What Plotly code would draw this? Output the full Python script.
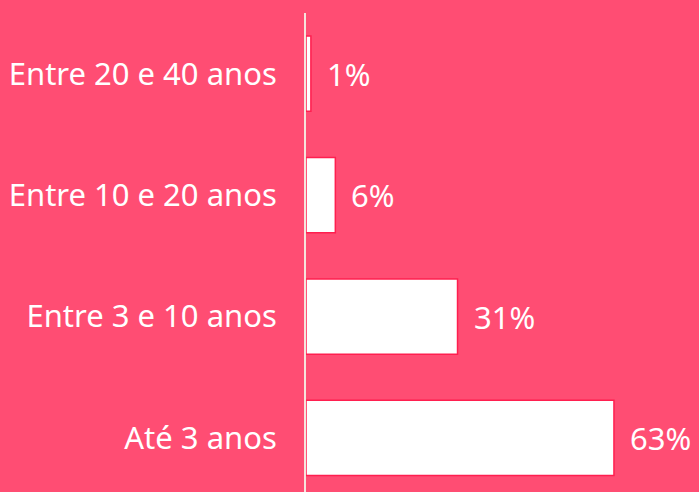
import plotly.graph_objects as go

categories = ["Até 3 anos", "Entre 3 e 10 anos", "Entre 10 e 20 anos", "Entre 20 e 40 anos"]
values = [63, 31, 6, 1]
labels = ["63%", "31%", "6%", "1%"]

BG = "#FF4D73"
FONT = "Noto Sans"
FS = 31

fig = go.Figure()
fig.add_trace(go.Bar(
    y=categories, x=values, orientation="h",
    marker=dict(color="white", line=dict(color="#FF1F4F", width=1.5)),
    width=0.62,
    hoverinfo="skip",
))
for c, v, t in zip(categories, values, labels):
    fig.add_annotation(x=v, y=c, text=t, showarrow=False, xanchor="left",
                       xshift=14, font=dict(family=FONT, size=FS, color="white"))

fig.update_layout(
    width=699, height=492,
    paper_bgcolor=BG, plot_bgcolor=BG,
    margin=dict(l=306, r=0, t=13, b=0),
    showlegend=False,
    font=dict(family=FONT, size=FS, color="white"),
)
fig.update_xaxes(range=[0, 80.4], visible=False)
fig.update_yaxes(range=[-0.445, 3.5], showline=True, linecolor="#F6E3DC", linewidth=2,
                 showgrid=False, zeroline=False, ticks="", ticklabelstandoff=21,
                 tickfont=dict(family=FONT, size=FS, color="white"))
fig.write_html("out.html", config={"displayModeBar": False},
               post_script="document.body.style.margin='0';document.body.style.background='" + BG + "';")
